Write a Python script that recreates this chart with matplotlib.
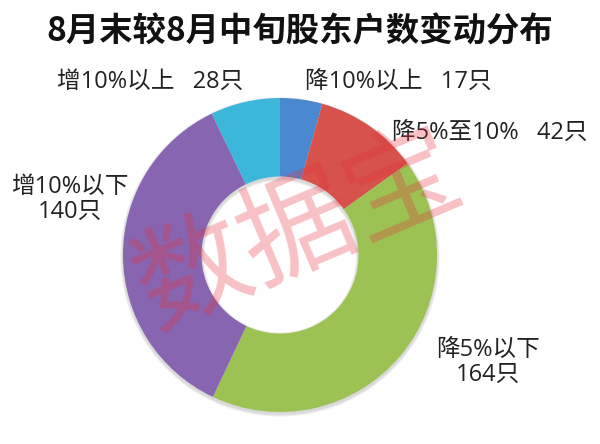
import matplotlib
matplotlib.use('Agg')
import matplotlib.pyplot as plt

plt.rcParams['font.family'] = ['Noto Sans CJK SC', 'DejaVu Sans']

# data, clockwise from 12 o'clock
categories = ['降10%以上', '降5%至10%', '降5%以下', '增10%以下', '增10%以上']
counts = [17, 42, 164, 140, 28]
colors = ['#4a88d0', '#d6524a', '#9cc253', '#8865b0', '#3cb7da']

fig = plt.figure(figsize=(6, 4.44), dpi=100)
fig.patch.set_facecolor('white')

# donut axes, center ~ (280, 255) px, outer radius ~157 px
cx, cy, r = 280, 255, 157
ax = fig.add_axes([(cx - r * 1.03) / 600, 1 - (cy + r * 1.03) / 444,
                   2 * r * 1.03 / 600, 2 * r * 1.03 / 444])
# faint shadow under the ring
for k in range(3):
    ax.pie([1], colors=['#000000'], radius=1.0 + 0.006 * (k + 1), center=(0, -0.012),
           wedgeprops=dict(width=0.5 + 0.012 * (k + 1), edgecolor='none', alpha=0.05))
ax.pie(counts, colors=colors, startangle=90, counterclock=False,
       radius=1.0, wedgeprops=dict(width=0.5, edgecolor='none'))
ax.set_aspect('equal')
ax.set_xlim(-1.03, 1.03)
ax.set_ylim(-1.03, 1.03)
ax.axis('off')

fig.text(0.5, 1 - 32 / 444, '8月末较8月中旬股东户数变动分布', ha='center', va='center',
         fontsize=24, fontweight='bold', color='#111111')

# slice labels (positions in pixels of the 600x444 picture)
lab_font = ['Open Sans', 'Noto Sans CJK SC']
label_pos = [(305, 82, 'left'), (392, 133, 'left'), (488, 362, 'center'),
             (70, 199, 'center'), (57, 82, 'left')]
label_text = [f'{categories[0]}   {counts[0]}只', f'{categories[1]}   {counts[1]}只',
              f'{categories[2]}\n{counts[2]}只', f'{categories[3]}\n{counts[3]}只',
              f'{categories[4]}   {counts[4]}只']
for (px, py, ha), txt in zip(label_pos, label_text):
    fig.text(px / 600, 1 - py / 444, txt, ha=ha, va='center', fontsize=17,
             color='#222222', linespacing=1.05, family=lab_font,
             multialignment='center')

# watermark
fig.text(298 / 600, 1 - 230 / 444, '数据宝', ha='center', va='center', fontsize=82,
         color='#e8303f', alpha=0.3, rotation=23)

fig.savefig('out.png', dpi=100, facecolor='white')
